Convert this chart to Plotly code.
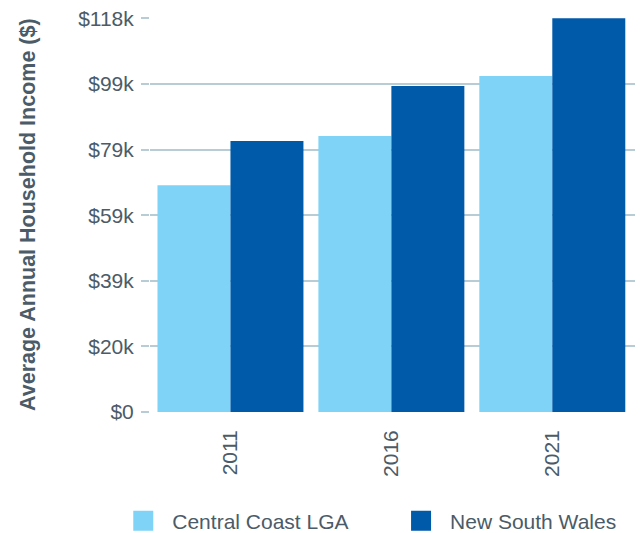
import plotly.graph_objects as go

years = ["2011", "2016", "2021"]
central_coast = [68100, 82900, 100900]
nsw = [81400, 97900, 118200]
series_names = ["Central Coast LGA", "New South Wales"]
series_colors = ["#7fd3f7", "#005aaa"]
y_max = 118200
tick_labels = ["$0", "$20k", "$39k", "$59k", "$79k", "$99k", "$118k"]
tick_vals = [y_max * i / 6 for i in range(len(tick_labels))]

TEXT = "#4b5b67"
GRID = "#b7ccd4"
FONT = "Liberation Sans, Arial, sans-serif"

fig = go.Figure()
legend_ids = ["legend", "legend2"]
for name, vals, col, lg in zip(series_names, [central_coast, nsw], series_colors, legend_ids):
    fig.add_trace(go.Bar(x=years, y=vals, name=name, marker=dict(color=col, line=dict(width=0)),
                         showlegend=False))
    # legend proxy with bigger square symbol
    fig.add_trace(go.Scatter(x=[None], y=[None], mode="markers", name=name, legend=lg,
                             marker=dict(symbol="square", size=16, color=col,
                                         line=dict(color=col, width=4))))

leg_common = dict(orientation="h", yanchor="middle", y=-0.2766, xanchor="left", itemwidth=48,
                  bgcolor="rgba(0,0,0,0)", font=dict(size=21, color=TEXT))

fig.update_layout(
    width=635, height=525,
    margin=dict(l=142, r=3, t=10, b=121, autoexpand=False),
    paper_bgcolor="white", plot_bgcolor="white",
    font=dict(family=FONT, size=21, color=TEXT),
    barmode="group", bargap=0.093, bargroupgap=0,
    showlegend=True,
    legend=dict(x=-0.0729, **leg_common),
    legend2=dict(x=0.494, **leg_common),
    xaxis=dict(type="category", range=[-0.5, 2.545], showgrid=False, showline=False,
               zeroline=False, ticks="", tickangle=-90, ticklabelstandoff=13,
               tickfont=dict(size=21, color=TEXT)),
    yaxis=dict(range=[0, y_max * 1.0008], tickvals=tick_vals, ticktext=tick_labels,
               showgrid=True, gridcolor=GRID, gridwidth=1.5, zeroline=False, showline=False,
               ticks="outside", ticklen=8, tickcolor=GRID, tickwidth=1.5, ticklabelstandoff=3,
               ticklabeloverflow="allow",
               tickfont=dict(size=21, color=TEXT)),
    annotations=[dict(text="<b>Average Annual Household Income ($)</b>", textangle=-90,
                      xref="paper", yref="paper", x=(28 - 150) / 490, y=0.5,
                      xanchor="center", yanchor="middle", showarrow=False,
                      font=dict(size=21.5, color=TEXT, family=FONT))],
)

fig.write_html("out.html")
